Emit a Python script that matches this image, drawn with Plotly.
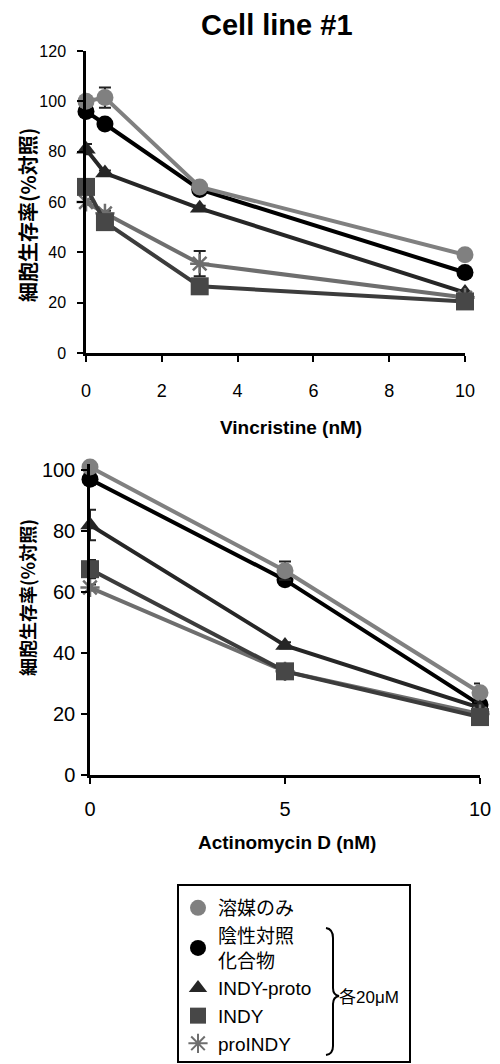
import plotly.graph_objects as go

# ---------------- data ----------------
series_names = ["溶媒のみ", "陰性対照<br>化合物", "INDY-proto", "INDY", "proINDY"]

vin_x = [0, 0.5, 3, 10]
vin_vehicle = [100, 101.5, 66, 39]
vin_negctrl = [96, 91, 65, 32]
vin_indyproto = [81, 71.5, 57.5, 24]
vin_indy = [66, 52, 26.5, 20.5]
vin_proindy = [60, 55.5, 35.5, 22]
vin_vehicle_err = [2, 4, 1, 1]
vin_negctrl_err = [1, 1, 1, 1]
vin_indyproto_err = [2, 1, 1, 1]
vin_indy_err = [2, 1, 1, 1]
vin_proindy_err = [1, 1, 5, 1]

act_x = [0, 5, 10]
act_vehicle = [101, 67, 27]
act_negctrl = [97, 64, 23]
act_indyproto = [82, 42.5, 22]
act_indy = [67.5, 34, 19]
act_proindy = [61.5, 34, 20]
act_vehicle_err = [1, 3, 3]
act_negctrl_err = [1, 1, 1]
act_indyproto_err = [5, 1, 1]
act_indy_err = [3, 1, 1]
act_proindy_err = [1, 1, 1]

vin_ticks = [0, 2, 4, 6, 8, 10]
act_ticks = [0, 5, 10]
vin_yticks = [0, 20, 40, 60, 80, 100, 120]
act_yticks = [0, 20, 40, 60, 80, 100]

# ---------------- styles ----------------
W, H = 500, 1064
def px(x):
    return x / W
def py(y):
    return 1 - y / H

styles = [
    dict(color="#808080", line="#808080", symbol="circle", size=17),
    dict(color="#000000", line="#000000", symbol="circle", size=17),
    dict(color="#262626", line="#262626", symbol="triangle-up", size=17),
    dict(color="#474747", line="#3c3c3c", symbol="square", size=18),
    dict(color="#6e6e6e", line="#6e6e6e", symbol="asterisk-open", size=16),
]
draw_order = [1, 0, 2, 4, 3]

fig = go.Figure()

vin_sets = [vin_vehicle, vin_negctrl, vin_indyproto, vin_indy, vin_proindy]
vin_errs = [vin_vehicle_err, vin_negctrl_err, vin_indyproto_err, vin_indy_err, vin_proindy_err]
act_sets = [act_vehicle, act_negctrl, act_indyproto, act_indy, act_proindy]
act_errs = [act_vehicle_err, act_negctrl_err, act_indyproto_err, act_indy_err, act_proindy_err]

def add_series(xv, yv, ev, st, xa, ya):
    mk = dict(color=st["color"], symbol=st["symbol"], size=st["size"])
    if st["symbol"].endswith("open"):
        mk["line"] = dict(color=st["color"], width=2.5)
    else:
        mk["line"] = dict(width=0)
    fig.add_trace(go.Scatter(
        x=xv, y=yv, mode="lines+markers", xaxis=xa, yaxis=ya,
        line=dict(color=st["line"], width=4),
        marker=mk,
        error_y=dict(type="data", array=ev, visible=True, color="#222222",
                     thickness=2, width=6),
        showlegend=False, cliponaxis=False, hoverinfo="skip"))

for i in draw_order:
    add_series(vin_x, vin_sets[i], vin_errs[i], styles[i], "x", "y")
for i in draw_order:
    add_series(act_x, act_sets[i], act_errs[i], styles[i], "x2", "y2")

# legend-only traces (markers only)
for i, name in enumerate(series_names):
    st = styles[i]
    mk = dict(color=st["color"], symbol=st["symbol"], size=16)
    if st["symbol"].endswith("open"):
        mk["line"] = dict(color=st["color"], width=2)
    fig.add_trace(go.Scatter(x=[None], y=[None], mode="markers", name=name,
                             marker=mk, xaxis="x", yaxis="y", showlegend=True))

axis_common = dict(showline=True, linecolor="black", linewidth=2.5, ticks="outside",
                   tickcolor="black", tickwidth=2, ticklen=6, showgrid=False,
                   zeroline=False, mirror=False, automargin=False)

fig.update_layout(
    width=W, height=H, margin=dict(l=0, r=0, t=0, b=0, autoexpand=False),
    paper_bgcolor="white", plot_bgcolor="rgba(0,0,0,0)",
    font=dict(family="Liberation Sans, Arial, Noto Sans CJK JP", color="black"),
    xaxis=dict(domain=[px(86), px(465)], range=[0, 10], tickvals=vin_ticks,
               tickfont=dict(size=18), anchor="y", ticklabelstandoff=14, **axis_common),
    yaxis=dict(domain=[py(353), py(51)], range=[0, 120], tickvals=vin_yticks,
               tickfont=dict(size=16), anchor="x", ticklabelstandoff=8, **axis_common),
    xaxis2=dict(domain=[px(90), px(480)], range=[0, 10], tickvals=act_ticks,
                tickfont=dict(size=20), anchor="y2", ticklabelstandoff=8, **axis_common),
    yaxis2=dict(domain=[py(775), py(464)], range=[0, 102], tickvals=act_yticks,
                tickfont=dict(size=20), anchor="x2", ticklabelstandoff=2, **axis_common),
    showlegend=True,
    legend=dict(x=px(178), xanchor="left", y=py(889), yanchor="top",
                bgcolor="rgba(0,0,0,0)", borderwidth=0, tracegroupgap=0,
                font=dict(size=19, family="Liberation Sans, Noto Sans CJK JP", color="black"),
                itemsizing="trace"),
)

ann = [
    dict(text="<b>Cell line #1</b>", x=px(277), y=py(25), size=29, fam="Liberation Sans, Arial", angle=0),
    dict(text="<b>Vincristine (nM)</b>", x=px(291), y=py(427), size=19, fam="Liberation Sans, Arial", angle=0),
    dict(text="<b>Actinomycin D (nM)</b>", x=px(287), y=py(842), size=19, fam="Liberation Sans, Arial", angle=0),
    dict(text="<b>細胞生存率(%対照)</b>", x=px(27), y=py(215), size=20, fam="Noto Sans CJK JP", angle=-90),
    dict(text="<b>細胞生存率(%対照)</b>", x=px(27), y=py(598), size=18, fam="Noto Sans CJK JP", angle=-90),
]
for a in ann:
    fig.add_annotation(text=a["text"], x=a["x"], y=a["y"], xref="paper", yref="paper",
                       showarrow=False, textangle=a["angle"],
                       font=dict(size=a["size"], family=a["fam"], color="black"),
                       xanchor="center", yanchor="middle")

fig.add_annotation(text="各20μM", x=px(337), y=py(997), xref="paper", yref="paper",
                   showarrow=False, xanchor="left", yanchor="middle",
                   font=dict(size=17, family="Liberation Sans, Noto Sans CJK JP", color="black"))

# legend frame
fig.add_shape(type="rect", xref="paper", yref="paper", x0=px(178), x1=px(410),
              y0=py(1062), y1=py(885), line=dict(color="black", width=2))

# curly brace
def P(x, y):
    return f"{px(x):.5f},{py(y):.5f}"
brace = (f"M {P(326,928)} Q {P(333,929)} {P(333,938)} L {P(333,988)} "
         f"Q {P(333,995)} {P(339,996)} Q {P(333,997)} {P(333,1004)} "
         f"L {P(333,1046)} Q {P(333,1054)} {P(326,1055)}")
fig.add_shape(type="path", xref="paper", yref="paper", path=brace,
              line=dict(color="black", width=2))

fig.write_html("out.html", config={"displayModeBar": False},
               post_script="document.body.style.margin='0';document.body.style.overflow='hidden';")
